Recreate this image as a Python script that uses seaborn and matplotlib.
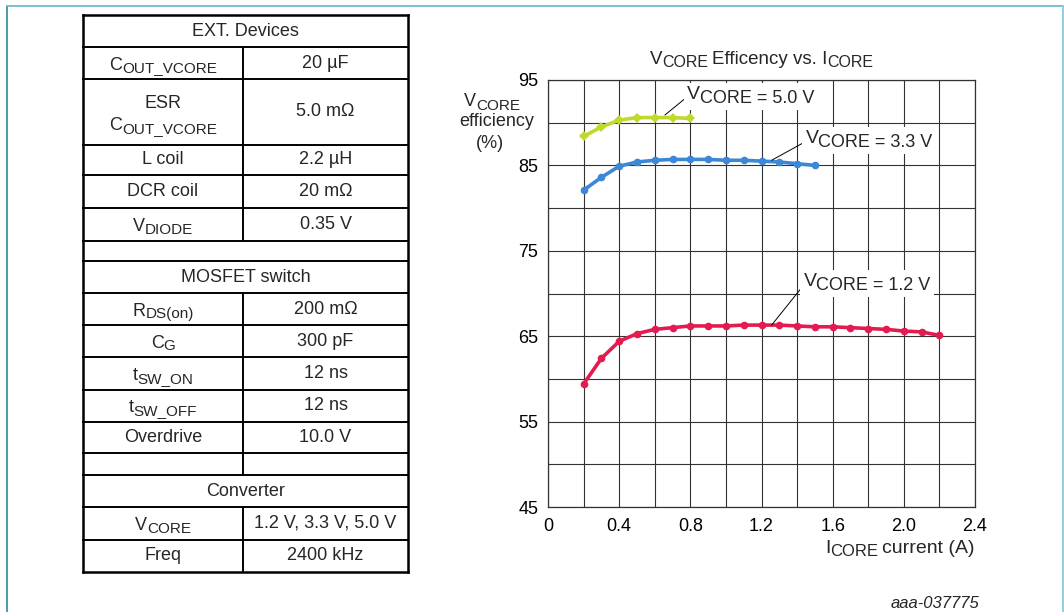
import matplotlib
matplotlib.use("Agg")
import matplotlib.pyplot as plt
import seaborn as sns
import pandas as pd
from matplotlib.ticker import MultipleLocator, FixedLocator
from matplotlib.transforms import offset_copy, IdentityTransform, Bbox
from matplotlib.patches import Rectangle

# ---------------- data ----------------
x_50 = [0.2, 0.3, 0.4, 0.5, 0.6, 0.7, 0.8]
eff_50 = [88.4, 89.5, 90.3, 90.6, 90.6, 90.6, 90.5]

x_33 = [0.2, 0.3, 0.4, 0.5, 0.6, 0.7, 0.8, 0.9, 1.0, 1.1, 1.2, 1.3, 1.4, 1.5]
eff_33 = [82.1, 83.6, 84.9, 85.4, 85.6, 85.7, 85.7, 85.7, 85.6, 85.6, 85.5, 85.4, 85.2, 85.0]

x_12 = [0.2, 0.3, 0.4, 0.5, 0.6, 0.7, 0.8, 0.9, 1.0, 1.1, 1.2, 1.3, 1.4, 1.5,
        1.6, 1.7, 1.8, 1.9, 2.0, 2.1, 2.2]
eff_12 = [59.4, 62.4, 64.4, 65.3, 65.8, 66.0, 66.2, 66.2, 66.2, 66.3, 66.3, 66.3,
          66.2, 66.1, 66.1, 66.0, 65.9, 65.8, 65.6, 65.5, 65.1]

series_names = ["5.0 V", "3.3 V", "1.2 V"]
x_ticks = [0, 0.4, 0.8, 1.2, 1.6, 2.0, 2.4]
x_tick_labels = ["0", "0.4", "0.8", "1.2", "1.6", "2.0", "2.4"]
y_ticks = [45, 55, 65, 75, 85, 95]

# table: (base text, subscript text) for left column; right column values
table_left = [("EXT. Devices", ""), ("C", "OUT_VCORE"), ("ESR", "C|OUT_VCORE"),
              ("L coil", ""), ("DCR coil", ""), ("V", "DIODE"), ("", ""),
              ("MOSFET switch", ""), ("R", "DS(on)"), ("C", "G"), ("t", "SW_ON"),
              ("t", "SW_OFF"), ("Overdrive", ""), ("", ""), ("Converter", ""),
              ("V", "CORE"), ("Freq", "")]
table_right = [None, "20 µF", "5.0 mΩ", "2.2 µH", "20 mΩ", "0.35 V", None, None,
               "200 mΩ", "300 pF", "12 ns", "12 ns", "10.0 V", "", None,
               "1.2 V, 3.3 V, 5.0 V", "2400 kHz"]

# ---------------- style ----------------
sns.set_theme(style="white")
plt.rcParams["font.family"] = ["Liberation Sans", "DejaVu Sans"]

W, H = 1064, 612
fig = plt.figure(figsize=(W / 100, H / 100), dpi=100)
renderer = fig.canvas.get_renderer()


def rich(axx, x, y, parts, transform=None, ha="center", vcenter=True, zorder=3,
         bg=None, **kw):
    """parts: list of (text, fontsize, baseline shift px, gap before px)."""
    transform = transform or axx.transData
    texts, widths = [], []
    for s, fs, dy, gap in parts:
        t = axx.text(x, y, s, fontsize=fs, ha="left", va="baseline",
                     transform=transform, zorder=zorder, **kw)
        texts.append(t)
        widths.append(t.get_window_extent(renderer).width)
    total = sum(widths) + sum(p[3] for p in parts)
    off = {"center": -total / 2, "left": 0, "right": -total}[ha]
    base = -0.36 * parts[0][1] * 100 / 72 if vcenter else 0
    for t, w, (s, fs, dy, gap) in zip(texts, widths, parts):
        off += gap
        t.set_transform(offset_copy(transform, fig=fig, x=off, y=base + dy,
                                    units="dots"))
        off += w
    if bg is not None:
        bb = Bbox.union([t.get_window_extent(renderer) for t in texts])
        axx.add_patch(Rectangle((bb.x0 - bg, bb.y0 - bg), bb.width + 2 * bg,
                                bb.height + 2 * bg, transform=IdentityTransform(),
                                fc="white", ec="none", zorder=zorder - 0.1,
                                clip_on=False))
    return texts


# ---------------- chart ----------------
L, R, T, B = 548, 975, 80, 507
ax = fig.add_axes([L / W, 1 - B / H, (R - L) / W, (B - T) / H])

df = pd.concat([
    pd.DataFrame({"I": x_50, "eff": eff_50, "V": series_names[0]}),
    pd.DataFrame({"I": x_33, "eff": eff_33, "V": series_names[1]}),
    pd.DataFrame({"I": x_12, "eff": eff_12, "V": series_names[2]}),
])
palette = {"5.0 V": "#c3d82c", "3.3 V": "#3c87d6", "1.2 V": "#e41b50"}
markers = {"5.0 V": "D", "3.3 V": "o", "1.2 V": "o"}
sns.lineplot(data=df, x="I", y="eff", hue="V", style="V", palette=palette,
             markers=markers, dashes=False, lw=2.6, markersize=5.5,
             markeredgewidth=0, ax=ax, legend=False, sort=False, zorder=5)

ax.set_xlim(0, 2.4)
ax.set_ylim(45, 95)
ax.xaxis.set_major_locator(FixedLocator(x_ticks))
ax.set_xticklabels(x_tick_labels)
ax.xaxis.set_minor_locator(MultipleLocator(0.2))
ax.yaxis.set_major_locator(FixedLocator(y_ticks))
ax.yaxis.set_minor_locator(MultipleLocator(5))
ax.grid(which="both", color="#333333", lw=0.8)
ax.tick_params(which="both", length=0, labelsize=13, colors="black")
ax.tick_params(axis="x", pad=8)
ax.tick_params(axis="y", pad=7)
for s in ax.spines.values():
    s.set_color("#333333")
    s.set_linewidth(0.9)
ax.set_xlabel("")
ax.set_ylabel("")

# annotation leader lines + labels (label anchored at baseline-left of "V")
labels = [("5.0 V", (0.657, 90.9), (0.772, 92.85), (0.779, 92.75)),
          ("3.3 V", (1.257, 85.6), (1.440, 87.7), (1.447, 87.6)),
          ("1.2 V", (1.257, 66.3), (1.430, 70.8), (1.436, 70.85))]
for name, p_curve, p_lbl, p_txt in labels:
    ax.annotate("", xy=p_curve, xytext=p_lbl, zorder=6,
                arrowprops=dict(arrowstyle="-", color="black", lw=0.7,
                                shrinkA=0, shrinkB=0))
    rich(ax, p_txt[0], p_txt[1],
         [("V", 14, 0, 0), ("CORE = " + name, 13, -3.5, 0)],
         ha="left", vcenter=False, zorder=7, bg=3)

# ---------------- overlay (table, labels, border) ----------------
ov = fig.add_axes([0, 0, 1, 1], zorder=-1)
ov.set_xlim(0, W)
ov.set_ylim(H, 0)
ov.axis("off")

# title
rich(ov, (L + R) / 2, 57, [("V", 13.5, 0, 0), ("CORE", 11.5, -3, 0),
                           ("Efficency vs. I", 13.5, 0, 4), ("CORE", 11.5, -3, 0)])
# x label
rich(ov, R, 546, [("I", 14, 0, 0), ("CORE", 12, -3, 0), ("current (A)", 14, 0, 4)],
     ha="right")
# y label
rich(ov, 492, 100, [("V", 13, 0, 0), ("CORE", 11, -3, 0)])
ov.text(497, 122, "efficiency", fontsize=13, ha="center", va="center")
ov.text(490, 143, "(%)", fontsize=13, ha="center", va="center")

# figure id
ov.text(891, 603, "aaa-037775", fontsize=12, style="italic", ha="left", va="center")

# border
ov.plot([7, 7], [6, H + 5], color="#3a93a6", lw=1.3)
ov.plot([7, 1063], [6, 6], color="#6fbccc", lw=1.3)
ov.plot([1063, 1063], [6, H + 5], color="#8ccbd8", lw=1.3)

# table
rows = [15, 47, 79, 145, 175, 208, 241, 261, 293, 325, 357, 390, 422, 453, 475, 507, 540, 572]
xl, xm, xr = 83, 243, 408
lw_in, lw_out = 1.4, 1.8
for y in rows:
    ov.plot([xl, xr], [y, y], color="black",
            lw=lw_out if y in (rows[0], rows[-1]) else lw_in, solid_capstyle="projecting")
ov.plot([xl, xl], [rows[0], rows[-1]], color="black", lw=lw_out, solid_capstyle="projecting")
ov.plot([xr, xr], [rows[0], rows[-1]], color="black", lw=lw_out, solid_capstyle="projecting")

fs, sfs, sdy = 13, 11, -2.8
for i, ((base, sub), rt) in enumerate(zip(table_left, table_right)):
    y0, y1 = rows[i], rows[i + 1]
    yc = (y0 + y1) / 2
    if rt is None:
        if base:
            ov.text((xl + xr) / 2, yc, base, fontsize=fs, ha="center", va="center")
        continue
    ov.plot([xm, xm], [y0, y1], color="black", lw=lw_in)
    cx = (xl + xm) / 2
    if "|" in sub:
        b2, s2 = sub.split("|")
        rich(ov, cx, yc - 11, [(base, fs, 0, 0)])
        rich(ov, cx, yc + 12, [(b2, fs, 0, 0), (s2, sfs, sdy, 0)])
    elif sub:
        rich(ov, cx, yc, [(base, fs, 0, 0), (sub, sfs, sdy, 0)])
    elif base:
        ov.text(cx, yc, base, fontsize=fs, ha="center", va="center")
    if rt:
        ov.text((xm + xr) / 2, yc, rt, fontsize=fs, ha="center", va="center")

fig.savefig("out.png", dpi=100)
